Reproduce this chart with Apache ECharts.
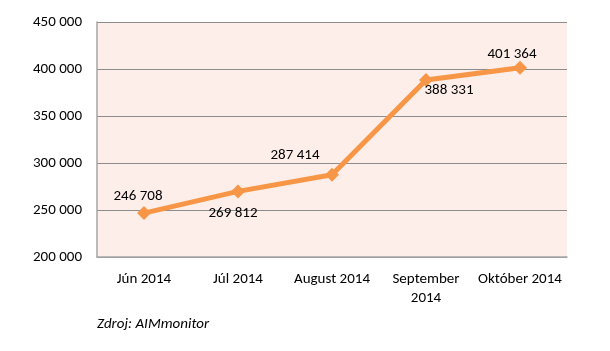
<!DOCTYPE html>
<html>
<head>
<meta charset="utf-8">
<script src="https://cdn.jsdelivr.net/npm/echarts@6/dist/echarts.min.js"></script>
<style>
  html, body { margin: 0; padding: 0; background: #fff; }
  #chart { width: 610px; height: 351px; }
</style>
</head>
<body>
<div id="chart"></div>
<script>
const months = ['Jún 2014', 'Júl 2014', 'August 2014', 'September\n2014', 'Október 2014'];
const visitors = [246708, 269812, 287414, 388331, 401364];
// where each value label sits relative to its point
const labelPos = ['top', 'bottom', 'top', 'bottom', 'top'];
const labelShift = [[-6, 6], [-5, -1], [-37, 3], [23, -12], [-8, 9]];

const fmt = v => String(v).replace(/\B(?=(\d{3})+(?!\d))/g, ' ');
const font = 'Carlito, "Open Sans", sans-serif';

const chart = echarts.init(document.getElementById('chart'));
chart.setOption({
    animation: false,
    grid: { left: 97, right: 43, top: 22, bottom: 94, containLabel: false },
    graphic: [
        {
            type: 'rect',
            shape: { x: 97, y: 22, width: 470, height: 235 },
            style: { fill: '#FDEEE9' },
            z: -1
        },
        {
            type: 'text',
            left: 97,
            top: 317,
            style: { text: 'Zdroj: AIMmonitor', font: 'italic 15px ' + font, fill: '#000' }
        }
    ],
    xAxis: {
        type: 'category',
        data: months,
        axisLine: { lineStyle: { color: '#A6A6A6', width: 1.5 } },
        axisTick: { show: false },
        axisLabel: { color: '#000', fontSize: 15, fontFamily: font, margin: 13, lineHeight: 19, interval: 0 }
    },
    yAxis: {
        type: 'value',
        min: 200000,
        max: 450000,
        interval: 50000,
        axisLine: { show: true, lineStyle: { color: '#A6A6A6', width: 1.5 } },
        splitLine: { lineStyle: { color: '#8C8C8C', width: 1 } },
        axisLabel: { color: '#000', fontSize: 15, fontFamily: font, margin: 15, formatter: fmt }
    },
    series: [
        {
            type: 'line',
            data: visitors.map((v, i) => ({
                value: v,
                label: { position: labelPos[i], offset: labelShift[i] }
            })),
            symbol: 'diamond',
            symbolSize: 14,
            lineStyle: { color: '#F79646', width: 5 },
            itemStyle: { color: '#F79646' },
            label: {
                show: true,
                color: '#000',
                fontSize: 15,
                fontFamily: font,
                distance: 8,
                formatter: p => fmt(p.value)
            }
        }
    ]
});
</script>
</body>
</html>
